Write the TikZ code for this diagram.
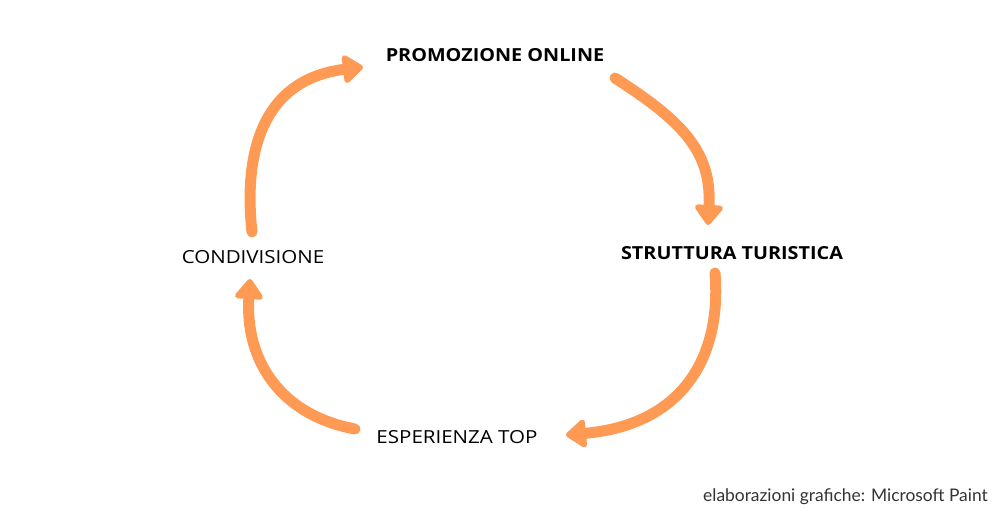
\documentclass[tikz,border=0pt]{standalone}
\usepackage{fontspec}
\setmainfont{Open Sans}
\newfontfamily\labfont[FakeStretch=1.14]{Open Sans}
\newfontfamily\blabfont[FakeStretch=1.1]{Open Sans}
\newfontfamily\footfont{Lato}
\usetikzlibrary{arrows.meta}
\definecolor{brush}{HTML}{FF9A55}
\begin{document}
\begin{tikzpicture}[x=1pt,y=-1pt,
  lbl/.style={inner sep=0pt, font=\labfont\fontsize{18}{21}\selectfont},
  blbl/.style={inner sep=0pt, font=\blabfont\fontsize{18}{21}\selectfont\bfseries},
  brushline/.style={draw=brush, line width=11pt, line cap=round,
    -{Triangle[width=32pt,length=22pt,round]}},
]
\useasboundingbox[fill=white] (0,0) rectangle (1000,523);

\node[blbl] (promo) at (495,55) {PROMOZIONE ONLINE};
\node[blbl] (strut) at (732,253) {STRUTTURA TURISTICA};
\node[lbl] (cond) at (253,257) {CONDIVISIONE};
\node[lbl] (esp) at (457,437) {ESPERIENZA TOP};
\node[inner sep=0pt, anchor=east, text=black!80, font=\footfont\fontsize{17.4}{20}\selectfont] (credit) at (988,497) {elaborazioni grafiche: Microsoft Paint};

\coordinate (a1s) at (252,232);
\coordinate (a1e) at (363,67);
\coordinate (a2s) at (615,78);
\coordinate (a2e) at (708,225);
\coordinate (a3s) at (715,273);
\coordinate (a3e) at (566,435);
\coordinate (a4s) at (355,429);
\coordinate (a4e) at (250,279);

\draw[brushline] (a1s) .. controls (244,160) and (258,80) .. (a1e);
\draw[brushline] (a2s) .. controls (680,120) and (712,150) .. (a2e);
\draw[brushline] (a3s) .. controls (722,360) and (680,425) .. (a3e);
\draw[brushline] (a4s) .. controls (280,415) and (245,360) .. (a4e);
\end{tikzpicture}
\end{document}
